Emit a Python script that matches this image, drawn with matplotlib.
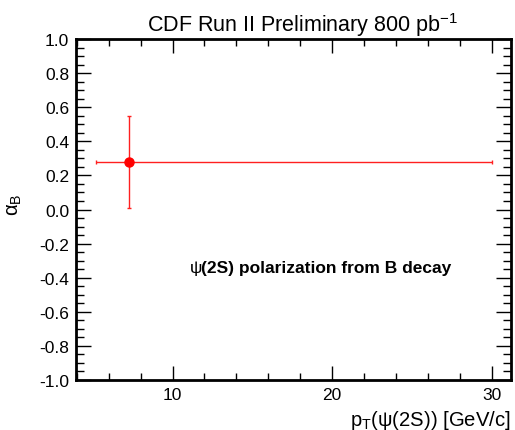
import matplotlib
matplotlib.use("Agg")
import matplotlib.pyplot as plt
from matplotlib.ticker import MultipleLocator, FormatStrFormatter, FixedLocator

plt.rcParams['font.family'] = ['Liberation Sans', 'DejaVu Sans']
plt.rcParams['axes.unicode_minus'] = False
plt.rcParams['mathtext.fontset'] = 'custom'
plt.rcParams['mathtext.rm'] = 'Liberation Sans'
plt.rcParams['mathtext.it'] = 'Liberation Sans'

# data
pt_center = [7.3]
pt_low = [5.2]
pt_high = [30.0]
alpha = [0.28]
alpha_err_low = [0.27]
alpha_err_high = [0.27]
x_major = [10, 20, 30]

fig = plt.figure(figsize=(5.15, 4.31), dpi=100)
ax = fig.add_axes([0.1476, 0.116, 0.8445, 0.791])

xerr = [[c - l for c, l in zip(pt_center, pt_low)], [h - c for c, h in zip(pt_center, pt_high)]]
yerr = [alpha_err_low, alpha_err_high]
ax.errorbar(pt_center, alpha, xerr=xerr, yerr=yerr, fmt='o', color='#ff0000',
            ecolor='#ff2020', elinewidth=1.0, capsize=1.5, capthick=1.0,
            markersize=6.5, zorder=3)

ax.set_xlim(3.95, 31.2)
ax.set_ylim(-1.0, 1.0)
ax.xaxis.set_major_locator(FixedLocator(x_major))
ax.xaxis.set_minor_locator(MultipleLocator(2))
ax.yaxis.set_major_locator(MultipleLocator(0.2))
ax.yaxis.set_minor_locator(MultipleLocator(0.05))
ax.yaxis.set_major_formatter(FormatStrFormatter('%.1f'))

ax.tick_params(which='both', direction='in', top=True, right=True, width=1.0, colors='black')
ax.tick_params(which='major', length=11, labelsize=12.5, pad=5)
ax.tick_params(which='minor', length=6)
ax.tick_params(axis='x', which='major', length=10, pad=5)
ax.tick_params(axis='x', which='minor', length=5)
for s in ax.spines.values():
    s.set_linewidth(2.0)

fig.text(147 / 515, 1 - 32 / 431, r'CDF Run II Preliminary 800 pb$^{\mathregular{-1}}$',
         fontsize=15.5, ha='left', va='baseline')
ax.set_xlabel(r'p$_{\mathregular{T}}$(ψ(2S)) [GeV/c]', fontsize=14.6)
ax.xaxis.label.set_ha('right')
ax.xaxis.label.set_va('baseline')
ax.xaxis.set_label_coords(1.0, -(426 - 381) / 341)
ax.set_ylabel(r'α$_{\mathregular{B}}$', fontsize=14.6)
ax.yaxis.set_label_coords(-(76 - 24) / 435, (381 - 205) / 341)

ax.text(0.262, 0.331, 'ψ', transform=ax.transAxes, fontsize=12.5, ha='left', va='center')
ax.text(0.287, 0.331, '(2S) polarization from B decay', transform=ax.transAxes,
        fontsize=12.5, fontweight='bold', ha='left', va='center')

fig.savefig('out.png', dpi=100)
